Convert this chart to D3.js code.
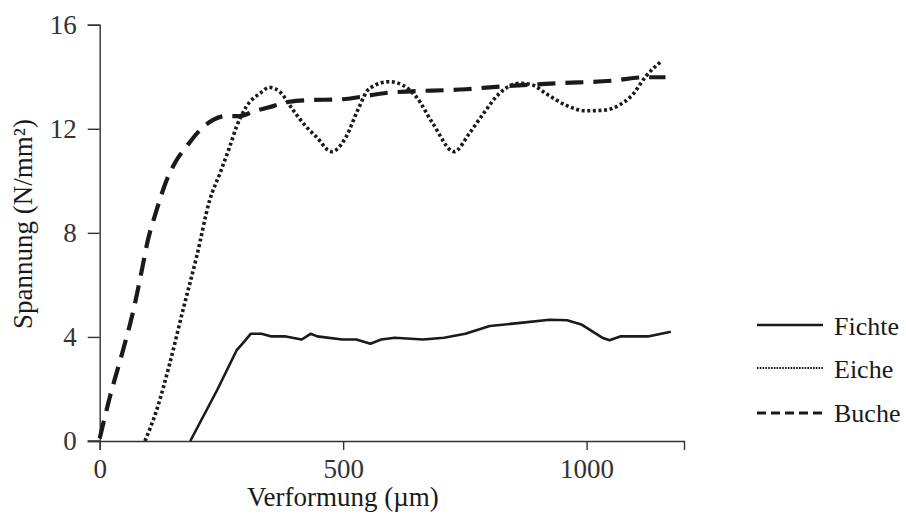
<!DOCTYPE html>
<html>
<head>
<meta charset="utf-8">
<script src="https://cdn.jsdelivr.net/npm/d3@7"></script>
<style>
  html, body { margin: 0; padding: 0; background: #fff; }
  svg { display: block; }
</style>
</head>
<body>
<svg id="chart" width="906" height="514"></svg>
<script>
// ---- data ----
const seriesNames = ["Fichte", "Eiche", "Buche"];

const fichteX = [186, 241, 281, 296, 310, 332, 353, 382, 415, 433, 447, 498, 527, 556, 578, 606, 664, 707, 751, 801, 859, 924, 960, 989, 1032, 1047, 1069, 1126, 1173];
const fichteY = [0, 1.95, 3.48, 3.8, 4.12, 4.12, 4.02, 4.02, 3.9, 4.12, 4.02, 3.9, 3.9, 3.74, 3.9, 3.97, 3.9, 3.97, 4.12, 4.42, 4.53, 4.66, 4.64, 4.48, 3.97, 3.87, 4.02, 4.02, 4.2];

const eicheX = [93, 117, 144, 171, 199, 226, 247, 267, 281, 301, 329, 349, 370, 397, 424, 445, 476, 506, 530, 554, 595, 622, 650, 684, 728, 759, 786, 821, 862, 889, 916, 957, 998, 1039, 1067, 1094, 1121, 1155];
const eicheY = [0, 1.19, 2.99, 5.03, 7.08, 9.26, 10.29, 11.31, 12.08, 12.85, 13.36, 13.59, 13.42, 12.72, 12.08, 11.69, 11.12, 11.69, 12.72, 13.55, 13.81, 13.68, 13.23, 12.21, 11.12, 11.82, 12.53, 13.36, 13.75, 13.68, 13.36, 12.91, 12.69, 12.72, 12.91, 13.30, 14.0, 14.62];

const bucheX = [0, 21, 48, 69, 89, 96, 117, 137, 158, 178, 206, 233, 260, 288, 315, 356, 390, 431, 493, 595, 752, 834, 944, 1053, 1121, 1162];
const bucheY = [0.1, 1.7, 3.5, 5.0, 6.8, 7.47, 8.88, 10.0, 10.8, 11.31, 11.95, 12.34, 12.49, 12.49, 12.66, 12.87, 13.04, 13.1, 13.13, 13.39, 13.52, 13.64, 13.75, 13.85, 13.98, 13.98];

const xTicks = [0, 500, 1000];
const yTicks = [0, 4, 8, 12, 16];
const xDomain = [0, 1200];
const yDomain = [0, 16];
const xTitle = "Verformung (µm)";
const yTitle = "Spannung (N/mm²)";

// ---- layout ----
const SERIF = '"Liberation Serif", "Times New Roman", Times, serif';
const svg = d3.select("#chart");
const x = d3.scaleLinear().domain(xDomain).range([99.7, 684]);
const y = d3.scaleLinear().domain(yDomain).range([441, 24.7]);
const FONT = 27;

const xAxis = svg.append("g").attr("transform", `translate(0,${y(0)})`)
  .call(d3.axisBottom(x).tickValues(xTicks).tickSize(9).tickPadding(9).tickFormat(d3.format("d")));
const yAxis = svg.append("g").attr("transform", `translate(${x(0)},0)`)
  .call(d3.axisLeft(y).tickValues(yTicks).tickSize(12).tickPadding(11).tickFormat(d3.format("d")));

[xAxis, yAxis].forEach(g => {
  g.attr("font-family", SERIF).attr("font-size", FONT);
  g.select(".domain").attr("stroke", "#333").attr("stroke-width", 1.4);
  g.selectAll(".tick line").attr("stroke", "#333").attr("stroke-width", 1.4);
  g.selectAll(".tick text").attr("fill", "#333").attr("font-family", SERIF).attr("font-size", FONT);
});
svg.append("line").attr("x1", x(0) - 12).attr("x2", x(0)).attr("y1", y(0)).attr("y2", y(0))
  .attr("stroke", "#333").attr("stroke-width", 1.4);

svg.append("text").attr("x", 343).attr("y", 506).attr("text-anchor", "middle")
  .attr("font-family", SERIF).attr("font-size", FONT).attr("fill", "#1a1a1a").text(xTitle);
svg.append("text").attr("transform", `translate(32,224) rotate(-90)`)
  .attr("text-anchor", "middle").attr("font-family", SERIF).attr("font-size", FONT)
  .attr("fill", "#1a1a1a").text(yTitle);

// ---- lines ----
const mk = (xs, ys) => xs.map((v, i) => [v, ys[i]]);
const styles = {
  Fichte: { data: mk(fichteX, fichteY), width: 2.6, dash: null, curve: d3.curveLinear },
  Eiche: { data: mk(eicheX, eicheY), width: 3.6, dash: "3,2.6", curve: d3.curveMonotoneX },
  Buche: { data: mk(bucheX, bucheY), width: 4.2, dash: "18,10", curve: d3.curveMonotoneX }
};

seriesNames.forEach(name => {
  const s = styles[name];
  const line = d3.line().x(d => x(d[0])).y(d => y(d[1])).curve(s.curve);
  const p = svg.append("path").datum(s.data).attr("d", line)
    .attr("fill", "none").attr("stroke", "#1a1a1a").attr("stroke-width", s.width)
    .attr("stroke-linejoin", "round");
  if (s.dash) p.attr("stroke-dasharray", s.dash);
});

// ---- legend ----
const legend = [
  { name: "Fichte", ly: 325, ty: 335, width: 2.6, dash: null },
  { name: "Eiche", ly: 368, ty: 378, width: 2.2, dash: "1.6,1.2" },
  { name: "Buche", ly: 413, ty: 422, width: 2.8, dash: "9,5" }
];
legend.forEach(l => {
  svg.append("line").attr("x1", 757).attr("x2", 823).attr("y1", l.ly).attr("y2", l.ly)
    .attr("stroke", "#1a1a1a").attr("stroke-width", l.width)
    .attr("stroke-dasharray", l.dash);
  svg.append("text").attr("x", 834).attr("y", l.ty).attr("font-family", SERIF)
    .attr("font-size", 26).attr("fill", "#1a1a1a").text(l.name);
});
</script>
</body>
</html>
